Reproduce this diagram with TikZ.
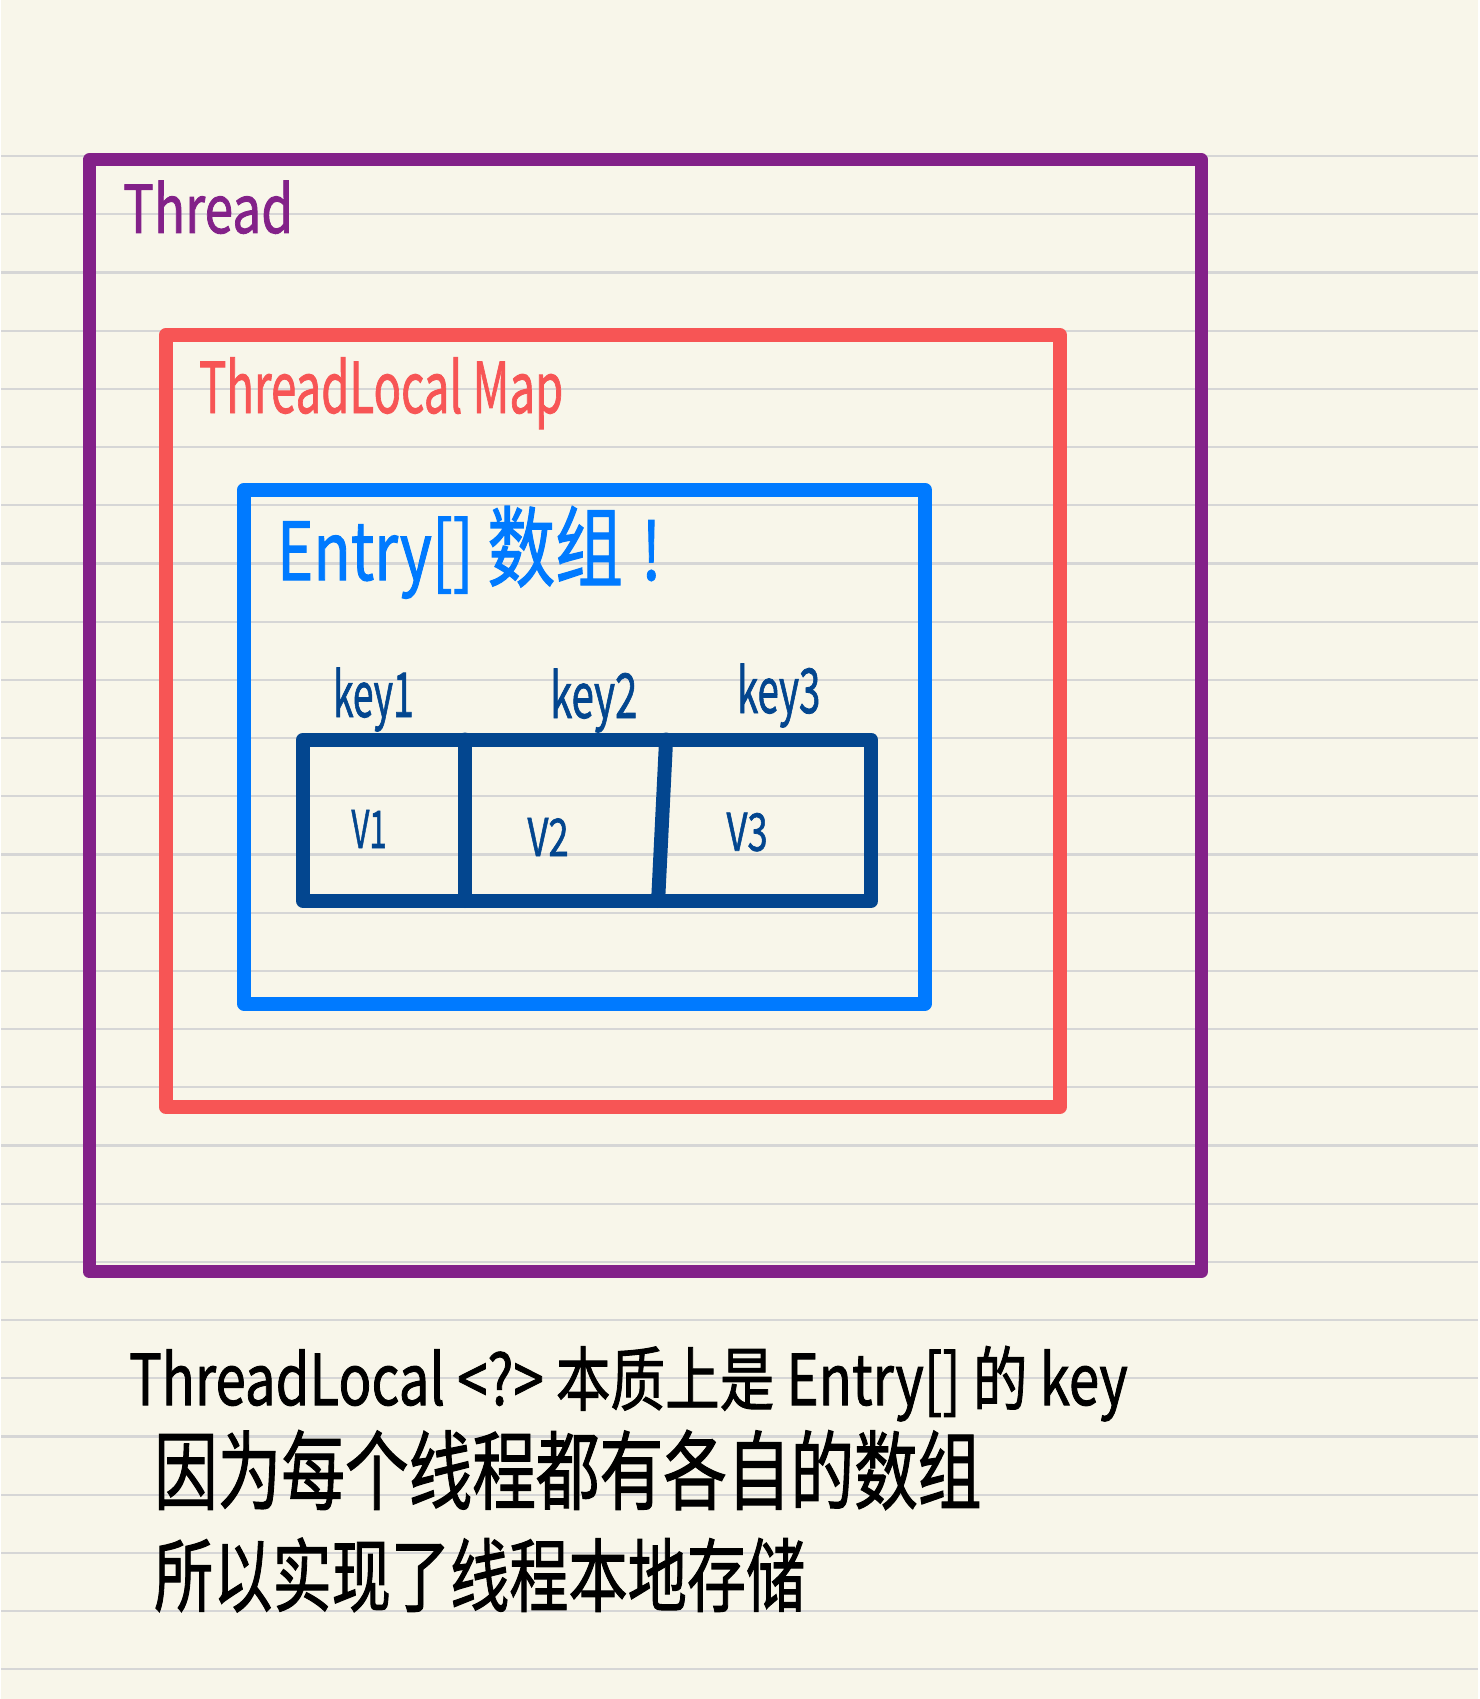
\documentclass[tikz,border=0pt]{standalone}
\usepackage{fontspec}
\setmainfont{Noto Sans CJK SC}
\newfontfamily\handfont{Noto Sans CJK SC}[FakeBold=1.4]
\usepackage{tikz}
\usetikzlibrary{positioning}
\definecolor{paper}{RGB}{248,246,234}
\definecolor{ruleline}{RGB}{214,214,214}
\definecolor{threadpurple}{RGB}{131,33,137}
\definecolor{mapred}{RGB}{247,85,85}
\definecolor{entryblue}{RGB}{0,122,255}
\definecolor{celldark}{RGB}{3,70,143}
\newcommand{\squeeze}[2]{\scalebox{#1}[1]{#2}}
\newcommand{\fsz}[1]{\fontsize{#1}{#1}\selectfont}

\begin{document}
\begin{tikzpicture}[x=1pt, y=-1pt,
  frame/.style={draw, line width=14pt, line join=round, inner sep=0pt, outer sep=0pt},
  cellline/.style={celldark, line width=14pt, line cap=round},
  label/.style={inner sep=0pt, outer sep=0pt, anchor=base west, font=\handfont},
  note/.style={inner sep=0pt, outer sep=0pt, anchor=west, text=black, font=\handfont}
]
% paper and ruled lines
\fill[paper] (0,0) rectangle (1477,1699);
\foreach \i in {0,...,26}
  \draw[ruleline, line width=2.2pt] (0,{156+58.2*\i}) -- (1477,{156+58.2*\i});

% nested boxes
\node[frame, draw=threadpurple, line width=13pt, minimum width=1112.5pt, minimum height=1111.5pt] (thread) at (644.25,715.75) {};
\node[frame, draw=mapred, minimum width=894pt, minimum height=772pt] (map) at (611.7,721) {};
\node[frame, draw=entryblue, minimum width=680.7pt, minimum height=514pt] (entries) at (583.35,746.7) {};
\node[frame, draw=celldark, minimum width=568pt, minimum height=161.5pt] (array) at (586,820.25) {};

% cell dividers
\coordinate (div1top) at (464,739.5);
\coordinate (div1bot) at (464,901);
\coordinate (div2top) at (665,739.5);
\coordinate (div2bot) at (657,901);
\draw[cellline] (div1top) -- (div1bot);
\draw[cellline] (div2top) -- (div2bot);

% box titles
\node[label, text=threadpurple] (threadlbl) at (122,233) {\fsz{66}\squeeze{0.78}{Thread}};
\node[label, text=mapred] (maplbl) at (198,413) {\fsz{70}\squeeze{0.65}{ThreadLocal Map}};
\node[label, text=entryblue] (entrylbl) at (276,580) {\fsz{80}\squeeze{0.77}{Entry[] {\fsz{88}数组}\hspace{0.3em}!}};

% keys and values
\node[label, text=celldark] (key1) at (332,717) {\fsz{62}\squeeze{0.6}{key1}};
\node[label, text=celldark] (key2) at (549,718) {\fsz{62}\squeeze{0.65}{key2}};
\node[label, text=celldark] (key3) at (736,713) {\fsz{62}\squeeze{0.62}{key3}};
\node[inner sep=0pt, text=celldark, font=\handfont] (v1) at (368,829) {\fsz{52}\squeeze{0.6}{V1}};
\node[inner sep=0pt, text=celldark, font=\handfont] (v2) at (547,837) {\fsz{52}\squeeze{0.7}{V2}};
\node[inner sep=0pt, text=celldark, font=\handfont] (v3) at (746,832) {\fsz{52}\squeeze{0.7}{V3}};

% note below
\node[label, text=black] (note1) at (128,1405) {\fsz{70}\squeeze{0.78}{ThreadLocal <?> 本质上是 Entry[] 的 key}};
\node[note] (note2) at (153,1470) {\fsz{86}\squeeze{0.74}{因为每个线程都有各自的数组}};
\node[note] (note3) at (153,1575) {\fsz{80}\squeeze{0.74}{所以实现了线程本地存储}};
\end{tikzpicture}
\end{document}
